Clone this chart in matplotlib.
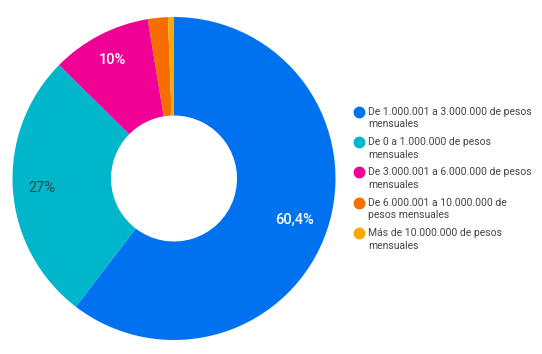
import numpy as np
import matplotlib
matplotlib.use("Agg")
import matplotlib.pyplot as plt
from matplotlib.lines import Line2D

categories = [
    "De 1.000.001 a 3.000.000 de pesos\nmensuales",
    "De 0 a 1.000.000 de pesos\nmensuales",
    "De 3.000.001 a 6.000.000 de pesos\nmensuales",
    "De 6.000.001 a 10.000.000 de\npesos mensuales",
    "Más de 10.000.000 de pesos\nmensuales",
]
values = [60.4, 27.0, 10.0, 2.0, 0.6]
pct_labels = ["60,4%", "27%", "10%", "", ""]
colors = ["#0072f0", "#00b6cb", "#f10096", "#f66d00", "#ffa800"]
label_colors = ["white", "#3c4650", "white", "white", "white"]
label_radius = [0.79, 0.82, 0.825, 0.8, 0.8]

plt.rcParams['font.family'] = ['Roboto', 'DejaVu Sans']

W, H = 542, 354
fig = plt.figure(figsize=(W / 100, H / 100), dpi=100)
cx, cy, R = 174, 354 - 178.5, 161.5
ax = fig.add_axes([(cx - R) / W, (cy - R) / H, 2 * R / W, 2 * R / H])
wedges, _ = ax.pie(values, colors=colors, startangle=90, counterclock=False,
                   radius=1.0, wedgeprops=dict(width=0.61, linewidth=0))
ax.set_xlim(-1, 1)
ax.set_ylim(-1, 1)
ax.set_aspect('equal')
ax.axis('off')

for w, lab, col, r in zip(wedges, pct_labels, label_colors, label_radius):
    if not lab:
        continue
    ang = np.deg2rad((w.theta1 + w.theta2) / 2)
    ax.text(r * np.cos(ang), r * np.sin(ang), lab, ha='center', va='center',
            color=col, fontsize=10.5,
            fontweight='medium' if col == 'white' else 'normal')

# legend (drawn manually in figure pixel coordinates)
leg_x_marker, leg_x_text = 359, 368
leg_y0, leg_dy, line_dy = 111.7, 30.3, 12.7
for i, (c, lab) in enumerate(zip(colors, categories)):
    y = leg_y0 + i * leg_dy
    fig.add_artist(Line2D([leg_x_marker / W], [1 - y / H], marker='o',
                          linestyle='none', markersize=7.5,
                          markerfacecolor=c, markeredgecolor=c,
                          transform=fig.transFigure))
    for j, line in enumerate(lab.split("\n")):
        fig.text(leg_x_text / W, 1 - (y + j * line_dy) / H, line,
                 ha='left', va='center', fontsize=7.5, color='#444444')

fig.savefig("out.png", dpi=100, facecolor='white')
